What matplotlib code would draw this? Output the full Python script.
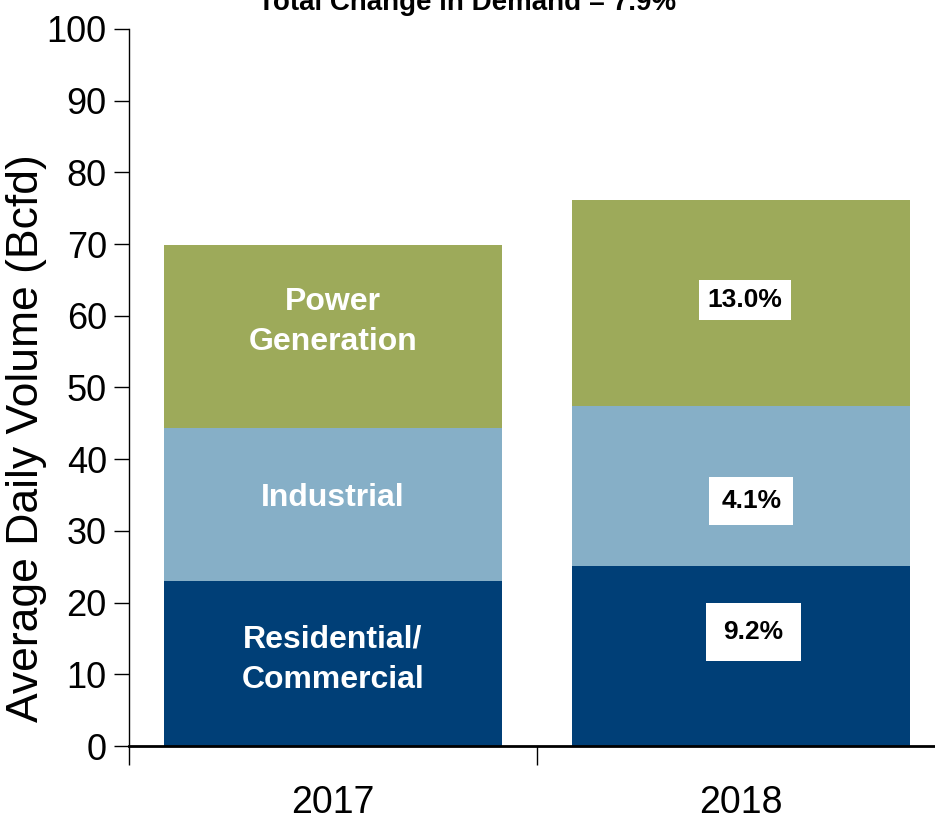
import matplotlib
matplotlib.use("Agg")
import matplotlib.pyplot as plt
import numpy as np

# ── data ──
years = ["2017", "2018"]
residential = [23.0, 25.1]
industrial = [21.4, 22.3]
power = [25.5, 28.8]
segment_names = ["Residential/\nCommercial", "Industrial", "Power\nGeneration"]
pct_change = ["9.2%", "4.1%", "13.0%"]
title = "Total Change in Demand = 7.9%"

DARK = "#003F77"
LIGHT = "#86AFC7"
GREEN = "#9DAA5A"
plt.rcParams["font.family"] = ["Liberation Sans", "DejaVu Sans"]

fig = plt.figure(figsize=(9.35, 8.22), dpi=100)
ax = fig.add_axes([129 / 935, 76 / 822, 816 / 935, 717 / 822])

x = np.arange(len(years))
w = 0.83
layers = [residential, industrial, power]
colors = [DARK, LIGHT, GREEN]
bottom = np.zeros(len(years))
for vals, c in zip(layers, colors):
    ax.bar(x, vals, w, bottom=bottom, color=c, edgecolor="none")
    bottom += np.array(vals)

# segment names on the 2017 bar (white, bold); y in data units
name_y = [12.0, 34.6, 59.1]
for name, y in zip(segment_names, name_y):
    ax.text(x[0], y, name, ha="center", va="center", color="white",
            fontsize=23, fontweight="bold", linespacing=1.45)

# percent-change boxes on the 2018 bar
box_y = [15.9, 34.2, 62.2]
box_pad = [0.66, 0.45, 0.32]
box_dx = [0.03, 0.025, 0.01]
for pct, y, p, dx in zip(pct_change, box_y, box_pad, box_dx):
    ax.text(x[1] + dx, y, pct, ha="center", va="center",
            color="black", fontsize=19, fontweight="bold",
            bbox=dict(boxstyle=f"square,pad={p}", fc="white", ec="none"))

ax.set_xlim(-0.5, 1.5)
ax.set_ylim(0, 100)
ax.set_yticks(np.arange(0, 101, 10))
ax.tick_params(axis="y", labelsize=26, length=11, width=1, direction="out", pad=5)
ax.set_ylabel("Average Daily Volume (Bcfd)", fontsize=32)
ax.yaxis.set_label_coords(-0.100, 0.43)

ax.set_xticks([-0.5, 0.5, 1.5])
ax.set_xticklabels([])
ax.tick_params(axis="x", which="major", length=14, width=1, direction="out")
ax.set_xticks(x, minor=True)
ax.set_xticklabels(years, minor=True, fontsize=27)
ax.tick_params(axis="x", which="minor", length=0, pad=28)

for s in ["top", "right"]:
    ax.spines[s].set_visible(False)
ax.spines["bottom"].set_linewidth(2)
ax.spines["left"].set_linewidth(1)

fig.text(467 / 935, (822 - 10) / 822, title, ha="center", va="baseline",
         fontsize=20, fontweight="bold")

fig.savefig("out.png", dpi=100)
